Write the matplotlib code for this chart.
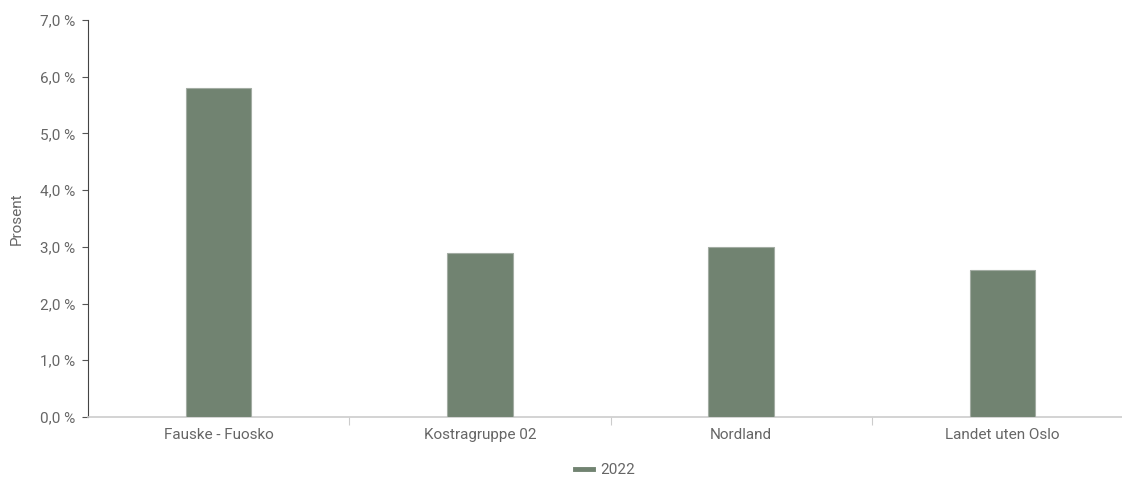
import matplotlib.pyplot as plt
from matplotlib.lines import Line2D

# Data
categories = ['Fauske - Fuosko', 'Kostragruppe 02', 'Nordland', 'Landet uten Oslo']
values = [5.8, 2.9, 3.0, 2.6]
series_name = '2022'
yticks = [0, 1, 2, 3, 4, 5, 6, 7]


def pct(v):
    return ('%.1f %%' % v).replace('.', ',')


def main():
    plt.rcParams['font.family'] = ['Roboto', 'DejaVu Sans']
    fig = plt.figure(figsize=(11.22, 4.78), dpi=100)
    ax = fig.add_axes([88 / 1122, 1 - 417 / 478, 1045 / 1122, 397 / 478])

    bar_color = '#718371'
    x = list(range(len(categories)))
    ax.bar(x, values, width=0.25, color=bar_color, edgecolor='#a3aca3', linewidth=0.8, zorder=3)

    ax.set_xlim(-0.5, len(categories) - 0.5)
    ax.set_ylim(0, 7)

    # y axis
    ax.set_yticks(yticks)
    ax.set_yticklabels([pct(v) for v in yticks], color='#666666', fontsize=11)
    ax.tick_params(axis='y', length=4, width=0.8, color='#555555', pad=5)
    ax.set_ylabel('Prosent', color='#666666', fontsize=11, labelpad=12)

    # x axis: labels at centers, ticks at category boundaries
    ax.set_xticks(x)
    ax.set_xticklabels(categories, color='#666666', fontsize=11)
    ax.tick_params(axis='x', length=0, pad=8)
    ax.set_xticks([i + 0.5 for i in x[:-1]], minor=True)
    ax.tick_params(axis='x', which='minor', length=6, width=0.8, color='#cccccc')

    for side in ['top', 'right']:
        ax.spines[side].set_visible(False)
    ax.spines['left'].set_color('#444444')
    ax.spines['left'].set_linewidth(0.8)
    ax.spines['bottom'].set_color('#cccccc')
    ax.spines['bottom'].set_linewidth(1.2)

    handle = Line2D([0], [0], color=bar_color, linewidth=3.5)
    leg = fig.legend([handle], [series_name], loc='center', bbox_to_anchor=(605 / 1122, 1 - 470 / 478),
                     frameon=False, fontsize=11, handlelength=1.2, handletextpad=0.5)
    for t in leg.get_texts():
        t.set_color('#666666')

    fig.savefig('out.png', dpi=100)


if __name__ == "__main__": main()
